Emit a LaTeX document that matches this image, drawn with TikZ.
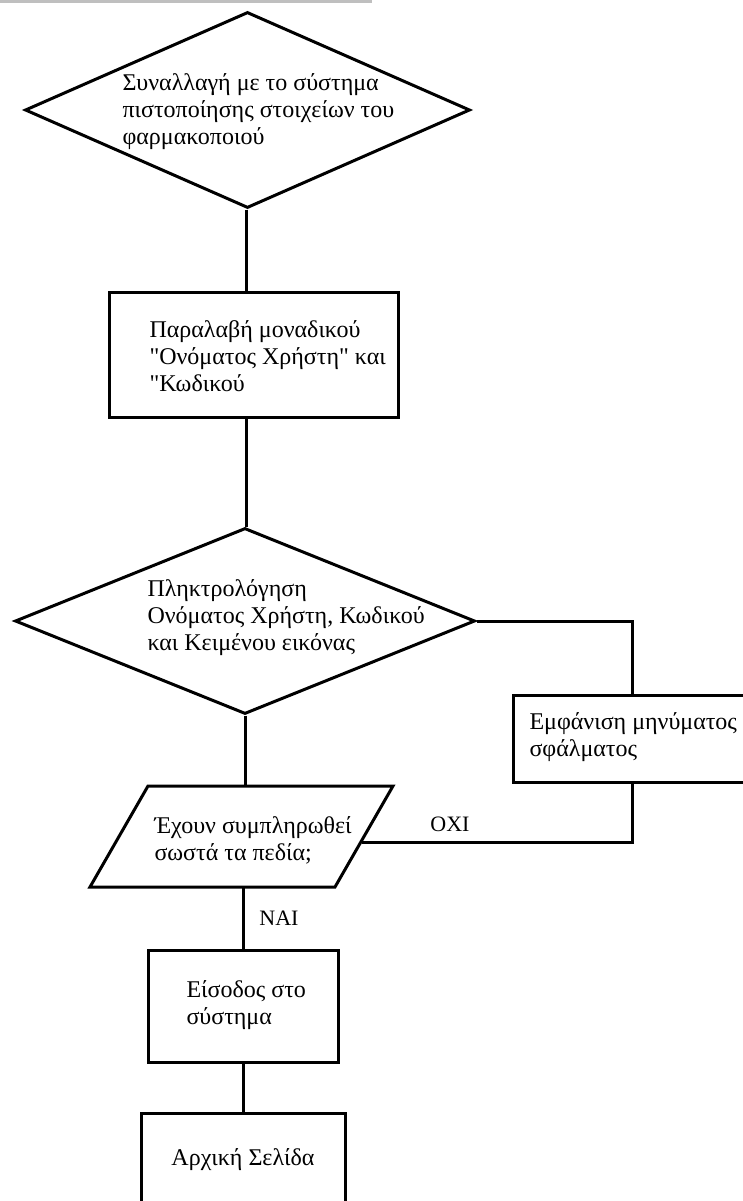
\documentclass[tikz,border=0pt]{standalone}
\usepackage{fontspec}
\setmainfont{Liberation Serif}
\newfontfamily\plainqfont{Liberation Serif}
\usetikzlibrary{shapes.geometric}
\newcommand{\sq}{{\plainqfont "}}
\begin{document}
\begin{tikzpicture}[x=1pt,y=-1pt, line width=3pt,
  dia/.style={draw, shape=diamond, inner sep=0pt},
  box/.style={draw, rectangle, inner sep=0pt},
  txt/.style={inner sep=0pt, align=left, font=\fontsize{24}{27}\selectfont},
  lbl/.style={inner sep=0pt, font=\fontsize{22}{27}\selectfont},
  conn/.style={draw}]
\useasboundingbox (0,0) rectangle (743,1201);
\clip (0,0) rectangle (743,1201);
\fill[gray!50] (0,0) rectangle (372,3);
% shapes
\node[dia, minimum width=445pt, minimum height=196pt] (d1) at (247.5,110) {};
\node[box, minimum width=289pt, minimum height=125pt] (b2) at (253.5,354.5) {};
\node[dia, minimum width=460pt, minimum height=186pt] (d3) at (245,621) {};
\node[box, minimum width=238pt, minimum height=87pt] (eb) at (632,738.5) {};
\coordinate (pTL) at (148,786);
\coordinate (pTR) at (393,786);
\coordinate (pBR) at (335,887);
\coordinate (pBL) at (90,887);
\draw[line join=miter] (pTL) -- (pTR) -- (pBR) -- (pBL) -- cycle;
\coordinate (ptop) at (245,786);
\coordinate (pbot) at (243,887);
\coordinate (pright) at (362,842);
\node[box, minimum width=190pt, minimum height=112pt] (b4) at (243,1006) {};
\node[box, minimum width=204pt, minimum height=120pt] (b5) at (243,1173) {};
% texts
\node[txt, anchor=west] (t1) at (121,112) {Συναλλαγή με το σύστημα\\πιστοποίησης στοιχείων του\\φαρμακοποιού};
\node[txt, anchor=west] (t2) at (148,356) {Παραλαβή μοναδικού\\\sq Ονόματος Χρήστη\sq{} και\\\sq Κωδικού};
\node[txt, anchor=west] (t3) at (146,618) {Πληκτρολόγηση\\Ονόματος Χρήστη, Κωδικού\\και Κειμένου εικόνας};
\node[txt, anchor=west] (t4) at (528,737) {Εμφάνιση μηνύματος\\σφάλματος};
\node[txt, anchor=west] (t5) at (153,840) {Έχουν συμπληρωθεί\\σωστά τα πεδία;};
\node[txt, anchor=west] (t6) at (185,1005) {Είσοδος στο\\σύστημα};
\node[txt] (t7) at (243,1160) {Αρχική Σελίδα};
\node[lbl] (oxi) at (450,824) {ΟΧΙ};
\node[lbl] (nai) at (279,918) {ΝΑΙ};
% connectors
\draw[conn] (d1.south -| 246,0) -- (b2.north -| 246,0);
\draw[conn] (b2.south -| 246,0) -- (d3.north -| 246,0);
\draw[conn] (d3.east) -| (eb.north);
\draw[conn] (eb.south) |- (pright);
\draw[conn] (d3.south) -- (ptop);
\draw[conn] (pbot) -- (b4.north);
\draw[conn] (b4.south) -- (b5.north);
\end{tikzpicture}
\end{document}
